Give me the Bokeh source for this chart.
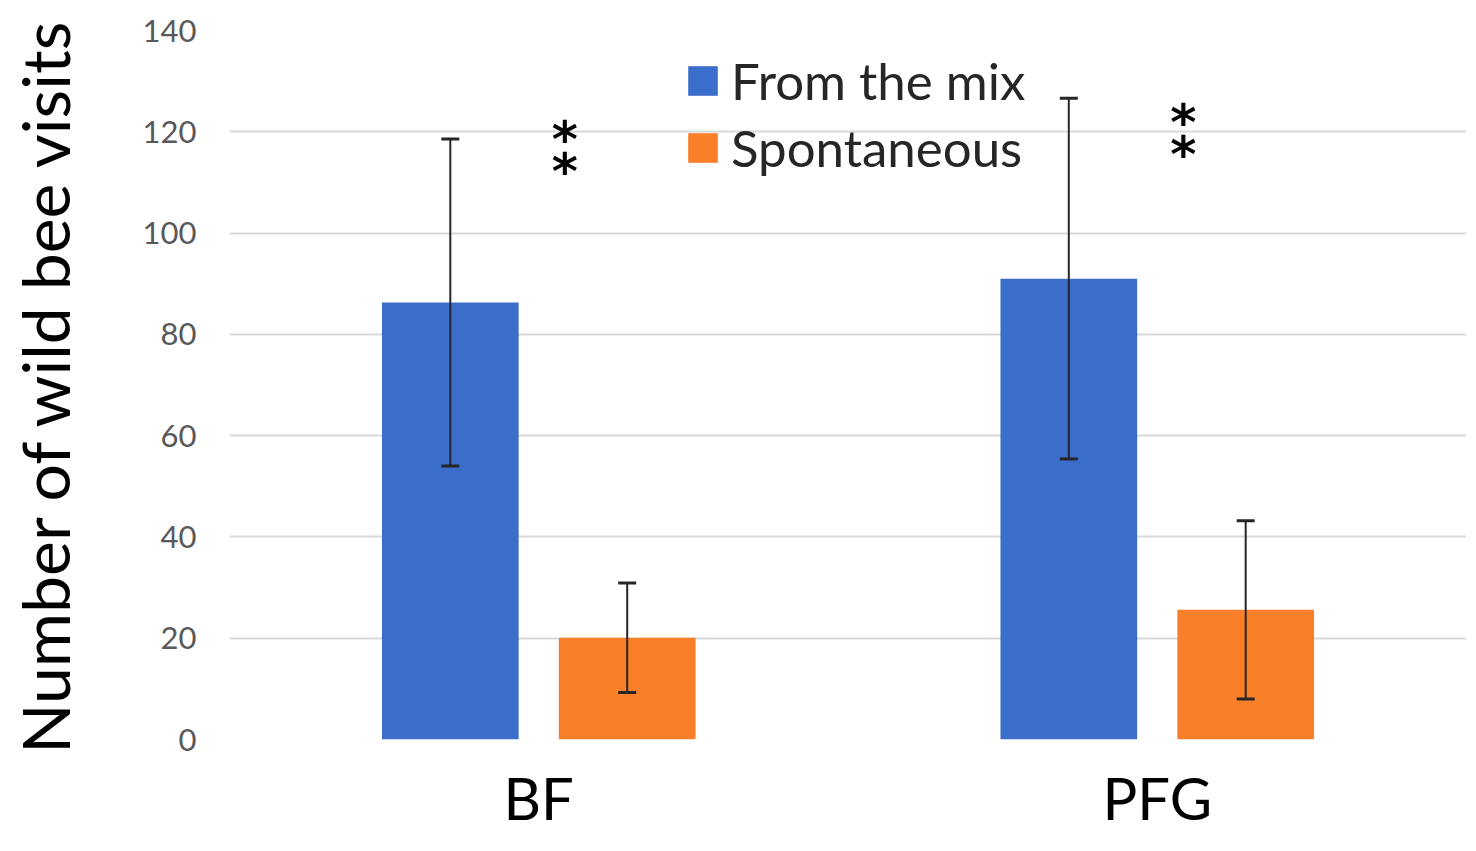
from bokeh.plotting import figure
from bokeh.models import ColumnDataSource, FactorRange, Whisker, TeeHead, Legend, LegendItem, Range1d
from bokeh.transform import dodge
from bokeh.core.properties import value
from bokeh.embed import file_html
from bokeh.resources import INLINE

# ---- data ----
sites = ["BF", "PFG"]
series_names = ["From the mix", "Spontaneous"]
mix_mean = [86.3, 91.0]
mix_err = [32.3, 35.6]
spont_mean = [20.1, 25.6]
spont_err = [10.8, 17.6]
sig_labels = ["*", "*"]          # two stacked asterisks per site ("**")
sig_y = [120.7, 124.1]           # value level of the upper asterisk
y_ticks = [0, 20, 40, 60, 80, 100, 120, 140]

BLUE = "#3B6DCB"
ORANGE = "#F97F28"
FONT = "Lato"

src = ColumnDataSource(data=dict(
    site=sites,
    mix=mix_mean,
    mix_lo=[m - e for m, e in zip(mix_mean, mix_err)],
    mix_hi=[m + e for m, e in zip(mix_mean, mix_err)],
    spont=spont_mean,
    spont_lo=[m - e for m, e in zip(spont_mean, spont_err)],
    spont_hi=[m + e for m, e in zip(spont_mean, spont_err)],
))

p = figure(width=1466, height=835, x_range=FactorRange(factors=sites),
           y_range=Range1d(0, 140), output_backend="svg", toolbar_location=None,
           min_border_left=229, min_border_right=0, min_border_top=30, min_border_bottom=96)
p.outline_line_color = None
p.background_fill_color = "white"
p.border_fill_color = "white"

off = 0.143
bw = 0.221
r_mix = p.vbar(x=dodge("site", -off, range=p.x_range), top="mix", width=bw, source=src,
               fill_color=BLUE, line_color=None)
r_sp = p.vbar(x=dodge("site", off, range=p.x_range), top="spont", width=bw, source=src,
              fill_color=ORANGE, line_color=None)

for base_off, lo, hi in [(-off, "mix_lo", "mix_hi"), (off, "spont_lo", "spont_hi")]:
    w = Whisker(base=dodge("site", base_off, range=p.x_range), lower=lo, upper=hi, source=src,
                line_color="#262626", line_width=2, level="overlay",
                upper_head=TeeHead(size=18, line_color="#262626", line_width=3),
                lower_head=TeeHead(size=18, line_color="#262626", line_width=3))
    p.add_layout(w)

# significance asterisks (stacked pair)
sig_src = ColumnDataSource(data=dict(site=sites, lab=sig_labels, y=sig_y))
for yo in (-17, 15):
    p.text(x=dodge("site", 0.042, range=p.x_range), y="y", text="lab", source=sig_src,
           text_font=value("DejaVu Sans"), text_font_size="50px", text_font_style="bold",
           text_color="black", text_align="center", text_baseline="top", y_offset=yo)

# grid / axes
p.xgrid.grid_line_color = None
p.ygrid.grid_line_color = "#D9D9D9"
p.ygrid.grid_line_width = 2
p.yaxis.ticker = y_ticks
p.yaxis.axis_line_color = None
p.yaxis.major_tick_line_color = None
p.yaxis.minor_tick_line_color = None
p.yaxis.major_label_text_font = FONT
p.yaxis.major_label_text_font_size = "31px"
p.yaxis.major_label_text_color = "#595959"
p.yaxis.major_label_standoff = 27
p.yaxis.axis_label = "Number of wild bee visits"
p.yaxis.axis_label_text_font = FONT
p.yaxis.axis_label_text_font_size = "66px"
p.yaxis.axis_label_text_font_style = "normal"
p.yaxis.axis_label_text_color = "black"
p.yaxis.axis_label_standoff = 56

p.xaxis.axis_line_color = None
p.xaxis.major_tick_line_color = None
p.xaxis.minor_tick_line_color = None
p.xaxis.major_label_text_font = FONT
p.xaxis.major_label_text_font_size = "58px"
p.xaxis.major_label_text_color = "black"
p.xaxis.major_label_standoff = 17

legend = Legend(items=[LegendItem(label=series_names[0], renderers=[r_mix]),
                       LegendItem(label=series_names[1], renderers=[r_sp])],
                location=(455, 561), orientation="vertical")
legend.label_text_font = FONT
legend.label_text_font_size = "51px"
legend.label_text_color = "#262626"
legend.glyph_width = 37
legend.glyph_height = 37
legend.label_height = 60
legend.spacing = 6
legend.padding = 0
legend.margin = 0
legend.label_standoff = 10
legend.border_line_color = None
legend.background_fill_alpha = 0
p.add_layout(legend)

open("out.html", "w").write(file_html(p, INLINE))
